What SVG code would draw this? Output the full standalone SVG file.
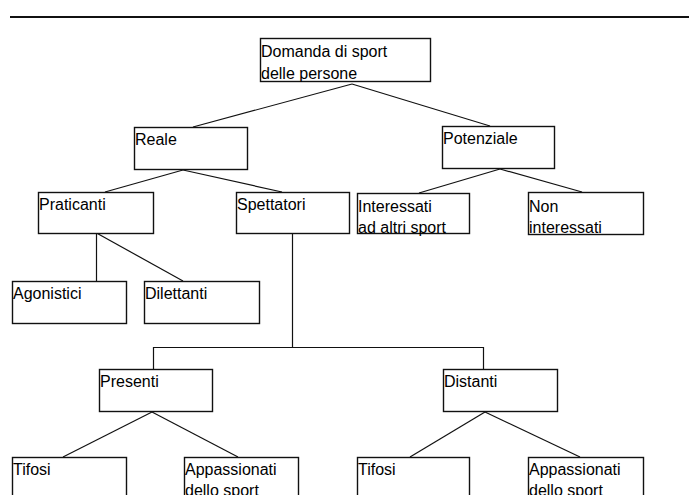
<svg xmlns="http://www.w3.org/2000/svg" width="689" height="495" viewBox="0 0 689 495">
  <style>
    .box { fill: #ffffff; stroke: #111111; stroke-width: 1.4; }
    .lbl { font-family: "Liberation Sans", Arial, sans-serif; font-size: 16px; fill: #000000; }
    .conn line, .conn polyline { stroke: #111111; stroke-width: 1.2; fill: none; }
  </style>
  <rect x="0" y="0" width="689" height="495" fill="#ffffff"/>

  <!-- header rule -->
  <line x1="10" y1="17" x2="689" y2="17" stroke="#111111" stroke-width="2"/>

  <!-- connectors -->
  <g id="connectors" class="conn">
    <line x1="352" y1="84" x2="193" y2="127"/>
    <line x1="352" y1="84" x2="490" y2="126"/>
    <line x1="183" y1="170" x2="105" y2="192"/>
    <line x1="183" y1="170" x2="282" y2="192"/>
    <line x1="500" y1="169" x2="419" y2="193"/>
    <line x1="500" y1="169" x2="582" y2="192"/>
    <line x1="96.5" y1="233" x2="96.5" y2="281"/>
    <line x1="96.5" y1="233" x2="183" y2="281"/>
    <line x1="292.5" y1="233" x2="292.5" y2="347"/>
    <polyline points="153.5,369 153.5,347.5 483.5,347.5 483.5,369"/>
    <line x1="152" y1="412" x2="63" y2="457"/>
    <line x1="152" y1="412" x2="238" y2="457"/>
    <line x1="485" y1="412" x2="410" y2="457"/>
    <line x1="485" y1="412" x2="580" y2="457"/>
  </g>

  <!-- nodes -->
  <g id="n-domanda">
    <rect class="box" x="260.5" y="38.5" width="170" height="43"/>
    <text class="lbl" x="261" y="57">Domanda di sport</text>
    <text class="lbl" x="261" y="79">delle persone</text>
  </g>
  <g id="n-reale">
    <rect class="box" x="134.5" y="127.5" width="113" height="42"/>
    <text class="lbl" x="135" y="145">Reale</text>
  </g>
  <g id="n-potenziale">
    <rect class="box" x="442.5" y="126.5" width="112" height="42"/>
    <text class="lbl" x="443" y="144">Potenziale</text>
  </g>
  <g id="n-praticanti">
    <rect class="box" x="38.5" y="192.5" width="115" height="41"/>
    <text class="lbl" x="39" y="210">Praticanti</text>
  </g>
  <g id="n-spettatori">
    <rect class="box" x="236.5" y="192.5" width="113" height="41"/>
    <text class="lbl" x="237" y="210">Spettatori</text>
  </g>
  <g id="n-interessati">
    <rect class="box" x="357.5" y="193.5" width="112" height="40"/>
    <text class="lbl" x="358" y="212">Interessati</text>
    <text class="lbl" x="358" y="233">ad altri sport</text>
  </g>
  <g id="n-non-interessati">
    <rect class="box" x="528.5" y="192.5" width="115" height="42"/>
    <text class="lbl" x="529" y="212">Non</text>
    <text class="lbl" x="529" y="233">interessati</text>
  </g>
  <g id="n-agonistici">
    <rect class="box" x="12.5" y="281.5" width="114" height="42"/>
    <text class="lbl" x="13" y="299">Agonistici</text>
  </g>
  <g id="n-dilettanti">
    <rect class="box" x="144.5" y="281.5" width="115" height="42"/>
    <text class="lbl" x="145" y="299">Dilettanti</text>
  </g>
  <g id="n-presenti">
    <rect class="box" x="99.5" y="369.5" width="113" height="42"/>
    <text class="lbl" x="100" y="387">Presenti</text>
  </g>
  <g id="n-distanti">
    <rect class="box" x="443.5" y="369.5" width="114" height="42"/>
    <text class="lbl" x="444" y="387">Distanti</text>
  </g>
  <g id="n-tifosi-presenti">
    <rect class="box" x="12.5" y="457.5" width="114" height="50"/>
    <text class="lbl" x="13" y="475">Tifosi</text>
  </g>
  <g id="n-appassionati-presenti">
    <rect class="box" x="184.5" y="457.5" width="114" height="50"/>
    <text class="lbl" x="185" y="475">Appassionati</text>
    <text class="lbl" x="185" y="496">dello sport</text>
  </g>
  <g id="n-tifosi-distanti">
    <rect class="box" x="357.5" y="457.5" width="112" height="50"/>
    <text class="lbl" x="358" y="475">Tifosi</text>
  </g>
  <g id="n-appassionati-distanti">
    <rect class="box" x="528.5" y="457.5" width="115" height="50"/>
    <text class="lbl" x="529" y="475">Appassionati</text>
    <text class="lbl" x="529" y="496">dello sport</text>
  </g>
</svg>
